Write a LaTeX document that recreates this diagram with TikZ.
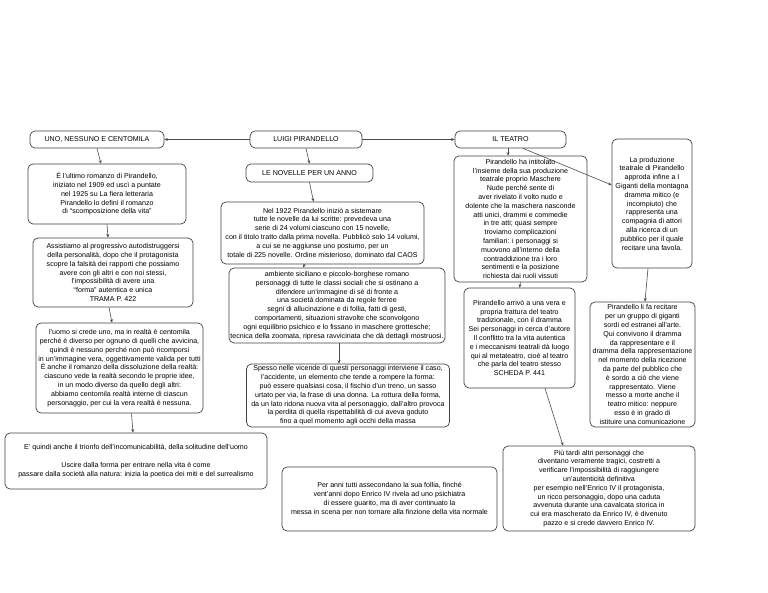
\documentclass[tikz,border=0pt]{standalone}
\usepackage{fontspec}
\setmainfont{Liberation Sans}
\usetikzlibrary{arrows.meta}
\begin{document}
\begin{tikzpicture}[x=1pt,y=-1pt,
 box/.style={draw=black!75, rounded corners=5pt, line width=0.7pt, align=center, inner sep=0pt, font=\fontsize{7.1}{8.8}\selectfont},
 conn/.style={draw=black!70, line width=0.6pt, -{Stealth[length=3.5pt,width=3pt]}}]
\path[use as bounding box] (0,0) rectangle (768,593);
% title boxes
\node[box, minimum width=134pt, minimum height=17pt] (uno) at (97,139.5) {UNO, NESSUNO E CENTOMILA};
\node[box, minimum width=112pt, minimum height=17pt] (luigi) at (306,139.5) {LUIGI PIRANDELLO};
\node[box, minimum width=111pt, minimum height=17pt] (teatro) at (510.5,139.5) {IL TEATRO};
\node[box, minimum width=127pt, minimum height=18pt] (novelle) at (309.5,173) {LE NOVELLE PER UN ANNO};
% left column
\node[box, minimum width=158pt, minimum height=60pt] (ultimo) at (107,194) {É l'ultimo romanzo di Pirandello,\\iniziato nel 1909 ed uscì a puntate\\nel 1925 su La fiera letteraria\\Pirandello lo definì il romanzo\\di ``scomposizione della vita''};
\node[box, minimum width=160pt, minimum height=69pt] (assist) at (113,272.5) {Assistiamo al progressivo autodistruggersi\\della personalità, dopo che il protagonista\\scopre la falsità dei rapporti che possiamo\\avere con gli altri e con noi stessi,\\l'impossibilità di avere una\\``forma'' autentica e unica\\TRAMA P. 422};
\node[box, minimum width=167pt, minimum height=90pt] (uomo) at (119.5,368) {l'uomo si crede uno, ma in realtà è centomila\\perché è diverso per ognuno di quelli che avvicina,\\quindi è nessuno perché non può ricomporsi\\in un'immagine vera, oggettivamente valida per tutti\\È anche il romanzo della dissoluzione della realtà:\\ciascuno vede la realtà secondo le proprie idee,\\in un modo diverso da quello degli altri:\\abbiamo centomila realtà interne di ciascun\\personaggio, per cui la vera realtà è nessuna.};
\node[box, minimum width=262pt, minimum height=56pt] (quindi) at (136,461) {E' quindi anche il trionfo dell'incomunicabilità, della solitudine dell'uomo\\[8.8pt]Uscire dalla forma per entrare nella vita è come\\passare dalla società alla natura: inizia la poetica dei miti e del surrealismo};
% middle column
\node[box, minimum width=203pt, minimum height=62pt] (nel) at (322.5,233) {Nel 1922 Pirandello iniziò a sistemare\\tutte le novelle da lui scritte: prevedeva una\\serie di 24 volumi ciascuno con 15 novelle,\\con il titolo tratto dalla prima novella. Pubblicò solo 14 volumi,\\a cui se ne aggiunse uno postumo, per un\\totale di 225 novelle. Ordine misterioso, dominato dal CAOS};
\node[box, minimum width=216pt, minimum height=75pt] (amb) at (337,305.5) {ambiente siciliano e piccolo-borghese romano\\personaggi di tutte le classi sociali che si ostinano a\\difendere un'immagine di sé di fronte a\\una società dominata da regole ferree\\segni di allucinazione e di follia, fatti di gesti,\\comportamenti, situazioni stravolte che sconvolgono\\ogni equilibrio psichico e lo fissano in maschere grottesche;\\tecnica della zoomata, ripresa ravvicinata che dà dettagli mostruosi.};
\node[box, minimum width=203pt, minimum height=63pt] (spesso) at (348,395.5) {Spesso nelle vicende di questi personaggi interviene il caso,\\l'accidente, un elemento che tende a rompere la forma:\\può essere qualsiasi cosa, il fischio d'un treno, un sasso\\urtato per via, la frase di una donna. La rottura della forma,\\da un lato ridona nuova vita al personaggio, dall'altro provoca\\la perdita di quella rispettabilità di cui aveva goduto\\fino a quel momento agli occhi della massa};
\node[box, minimum width=215pt, minimum height=64pt] (peranni) at (389.5,499) {Per anni tutti assecondano la sua follia, finché\\vent'anni dopo Enrico IV rivela ad uno psichiatra\\di essere guarito, ma di aver continuato la\\messa in scena per non tornare alla finzione della vita normale};
% right columns
\node[box, minimum width=133pt, minimum height=126pt] (intit) at (520.5,219) {Pirandello ha intitolato\\l'insieme della sua produzione\\teatrale proprio Maschere\\Nude perché sente di\\aver rivelato il volto nudo e\\dolente che la maschera nasconde\\atti unici, drammi e commedie\\in tre atti; quasi sempre\\troviamo complicazioni\\familiari: i personaggi si\\muovono all'interno della\\contraddizione tra i loro\\sentimenti e la posizione\\richiesta dai ruoli vissuti};
\node[box, minimum width=111pt, minimum height=100pt] (arrivo) at (519.5,338) {Pirandello arrivò a una vera e\\propria frattura del teatro\\tradizionale, con il dramma\\Sei personaggi in cerca d'autore\\Il conflitto tra la vita autentica\\e i meccanismi teatrali dà luogo\\qui al metateatro, cioè al teatro\\che parla del teatro stesso\\SCHEDA P. 441};
\node[box, minimum width=80pt, minimum height=129pt] (produz) at (652,203.5) {La produzione\\teatrale di Pirandello\\approda infine a I\\Giganti della montagna\\dramma mitico (e\\incompiuto) che\\rappresenta una\\compagnia di attori\\alla ricerca di un\\pubblico per il quale\\recitare una favola.};
\node[box, minimum width=105pt, minimum height=125pt] (lifa) at (642.5,364.5) {Pirandello li fa recitare\\per un gruppo di giganti\\sordi ed estranei all'arte.\\Qui convivono il dramma\\da rappresentare e il\\dramma della rappresentazione\\nel momento della ricezione\\da parte del pubblico che\\è sordo a ciò che viene\\rappresentato. Viene\\messo a morte anche il\\teatro mitico: neppure\\esso è in grado di\\istituire una comunicazione};
\node[box, minimum width=192pt, minimum height=85pt] (piutardi) at (599,488.5) {Più tardi altri personaggi che\\diventano veramente tragici, costretti a\\verificare l'impossibilità di raggiungere\\un'autenticità definitiva\\per esempio nell'Enrico IV il protagonista,\\un ricco personaggio, dopo una caduta\\avvenuta durante una cavalcata storica in\\cui era mascherato da Enrico IV, è divenuto\\pazzo e si crede davvero Enrico IV.};
% connectors
\draw[conn] (luigi.west) -- (uno.east);
\draw[conn] (luigi.east) -- (teatro.west);
\draw[conn] (luigi.south) -- (novelle.north);
\draw[conn] (uno.south) -- ([xshift=-6pt]ultimo.north);
\draw[conn] (ultimo.south) -- ([xshift=-5pt]assist.north);
\draw[conn] ([xshift=-4pt]assist.south) -- ([xshift=-7.5pt]uomo.north);
\draw[conn] ([xshift=12pt]uomo.south) -- ([xshift=-3pt]quindi.north);
\draw[conn] (novelle.south) -- ([xshift=-9pt]nel.north);
\draw[conn] ([xshift=-18pt]nel.south) -- ([xshift=-34pt]amb.north);
\draw[conn] ([xshift=2pt]amb.south) -- ([xshift=-9pt]spesso.north);
\draw[conn] ([xshift=-2.5pt]teatro.south) -- ([xshift=-12.5pt]intit.north);
\draw[conn] ([xshift=12.5pt]teatro.south) -- ([yshift=18.5pt]produz.west);
\draw[conn] (intit.south) -- (arrivo.north);
\draw[conn] ([xshift=25.5pt]arrivo.south) -- ([xshift=-36pt]piutardi.north);
\draw[conn] ([xshift=-4pt]produz.south) -- ([xshift=2.5pt]lifa.north);
\end{tikzpicture}
\end{document}
